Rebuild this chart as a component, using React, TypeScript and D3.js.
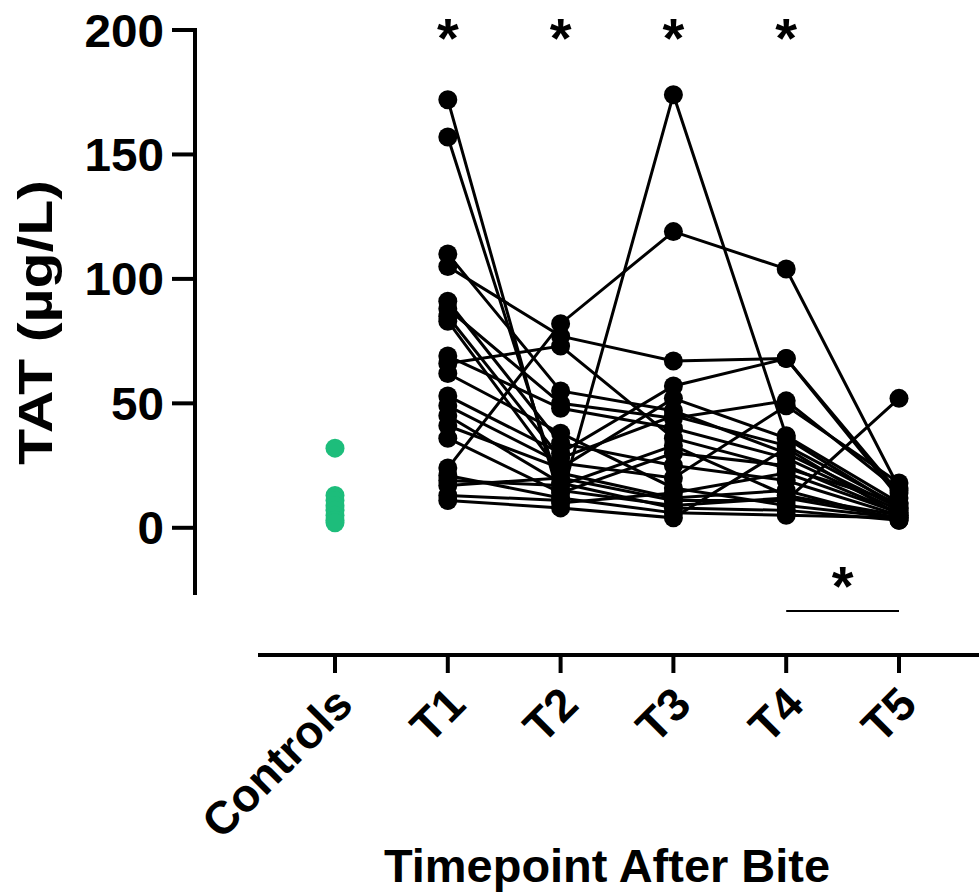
import React from "react";
import * as d3 from "d3";

const categories = ["Controls", "T1", "T2", "T3", "T4", "T5"];
const timepoints = ["T1", "T2", "T3", "T4", "T5"];
const yTicks = [0, 50, 100, 150, 200];

// TAT values for the controls group
const controls = [32, 13, 11, 9, 7, 5, 3, 2];

// one entry per patient, same order in every timepoint array
const t1 = [172, 157, 110, 105, 91, 88, 85, 83, 69, 66, 62, 53, 49, 45, 41, 36, 24, 21, 17, 11, 13, 19];
const t2 = [10, 15, 55, 77, 34, 50, 28, 22, 48, 73, 38, 30, 26, 18, 24, 14, 82, 12, 20, 8, 11, 17];
const t3 = [14, 9, 47, 67, 25, 44, 45, 12, 40, 36, 16, 57, 20, 8, 52, 30, 119, 6, 11, 4, 174, 33];
const t4 = [22, 12, 30, 68, 19, 51, 33, 15, 28, 24, 9, 68, 49, 7, 36, 25, 104, 5, 11, 32, 37, 13];
const t5 = [6, 4, 8, 12, 5, 15, 9, 3, 7, 10, 4, 14, 18, 3, 8, 6, 16, 4, 52, 5, 10, 5];

const significant = ["T1", "T2", "T3", "T4"];

const W = 979;
const H = 894;
const FONT = "'Liberation Sans', Arial, sans-serif";

export default function App() {
  const x = d3.scalePoint<string>().domain(categories).range([335, 899]);
  const y = d3.scaleLinear().domain([-27, 200]).range([595, 30]);

  const patients = t1.map((_, i) => [t1[i], t2[i], t3[i], t4[i], t5[i]]);
  const line = d3
    .line<number>()
    .x((_, i) => x(timepoints[i]) as number)
    .y((d) => y(d));

  return (
    <svg
      width={W}
      height={H}
      style={{ position: "absolute", left: 0, top: 0, background: "#fff" }}
      fontFamily={FONT}
      fontWeight="bold"
    >
      {/* y axis */}
      <line x1={195} x2={195} y1={y(200) - 2} y2={595} stroke="#000" strokeWidth={4} />
      {yTicks.map((t) => (
        <g key={t}>
          <line x1={172} x2={195} y1={y(t)} y2={y(t)} stroke="#000" strokeWidth={4} />
          <text
            x={164}
            y={y(t)}
            dy="0.36em"
            textAnchor="end"
            fontSize={46}
            textLength={String(t).length * 26.5}
            lengthAdjust="spacingAndGlyphs"
          >
            {t}
          </text>
        </g>
      ))}
      <text
        transform={`translate(52,${(180 + 465) / 2}) rotate(-90)`}
        textAnchor="middle"
        fontSize={48}
        textLength={285}
        lengthAdjust="spacingAndGlyphs"
      >
        TAT (µg/L)
      </text>

      {/* x axis */}
      <line x1={258} x2={W} y1={655} y2={655} stroke="#000" strokeWidth={4} />
      {categories.map((c) => (
        <g key={c}>
          <line
            x1={x(c)}
            x2={x(c)}
            y1={655}
            y2={673}
            stroke="#000"
            strokeWidth={4}
          />
          <text
            transform={`translate(${(x(c) as number) + 20},${707}) rotate(-45)`}
            textAnchor="end"
            fontSize={46}
          >
            {c}
          </text>
        </g>
      ))}
      <text
        x={607}
        y={882}
        textAnchor="middle"
        fontSize={46}
        textLength={446}
        lengthAdjust="spacingAndGlyphs"
      >
        Timepoint After Bite
      </text>

      {/* patient trajectories */}
      {patients.map((p, i) => (
        <path key={i} d={line(p) || ""} fill="none" stroke="#000" strokeWidth={3} />
      ))}
      {patients.map((p, i) =>
        p.map((v, j) => (
          <circle
            key={`${i}-${j}`}
            cx={x(timepoints[j])}
            cy={y(v)}
            r={9.5}
            fill="#000"
          />
        ))
      )}

      {/* controls */}
      {controls.map((v, i) => (
        <circle key={i} cx={x("Controls")} cy={y(v)} r={9.5} fill="#1dbd7b" />
      ))}

      {/* significance marks */}
      {significant.map((c) => (
        <text
          key={c}
          x={x(c)}
          y={57}
          textAnchor="middle"
          fontSize={56}
        >
          *
        </text>
      ))}
      <line
        x1={x("T4")}
        x2={x("T5")}
        y1={611}
        y2={611}
        stroke="#000"
        strokeWidth={2}
      />
      <text
        x={((x("T4") as number) + (x("T5") as number)) / 2}
        y={605}
        textAnchor="middle"
        fontSize={56}
      >
        *
      </text>
    </svg>
  );
}
